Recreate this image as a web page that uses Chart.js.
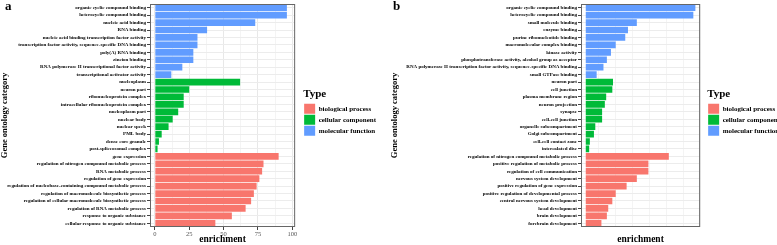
<!DOCTYPE html>
<html>
<head>
<meta charset="utf-8">
<script src="https://cdn.jsdelivr.net/npm/chart.js@4.4.1/dist/chart.umd.min.js"></script>
<style>
  body { margin: 0; background: #fff; width: 777px; height: 245px; overflow: hidden; position: relative; }
  .panel { position: absolute; top: 0; }
  .tag { position: absolute; top: -2px; font: bold 13px "Liberation Serif", serif; color: #000; }
</style>
</head>
<body>
<canvas id="chart-a" class="panel" width="386" height="245" style="left:0"></canvas>
<canvas id="chart-b" class="panel" width="400" height="245" style="left:390px"></canvas>
<div class="tag" style="left:5px">a</div>
<div class="tag" style="left:393px">b</div>
<script>
// panel a
const mfTermsA = ['organic cyclic compound binding', 'heterocyclic compound binding', 'nucleic acid binding', 'RNA binding',
  'nucleic acid binding transcription factor activity', 'transcription factor activity, sequence-specific DNA binding',
  'poly(A) RNA binding', 'zincion binding', 'RNA polymerase II transcriptional factor activity', 'transcriptional activator activity'];
const mfValuesA = [96, 96, 73, 38, 31, 31, 28, 28, 20, 12];
const ccTermsA = ['nucleoplasm', 'neuron part', 'ribonucleoprotein complex', 'intracellular ribonucleoprotein complex',
  'nucleoplasm part', 'nuclear body', 'nuclear speck', 'PML body', 'dense core granule', 'post-spliceosomal complex'];
const ccValuesA = [62, 25, 21, 21, 17, 13, 10, 5, 3, 2];
const bpTermsA = ['gene expression', 'regulation of nitrogen compound metabolic process', 'RNA metabolic process',
  'regulation of gene expression', 'regulation of nucleobase-containing compound metabolic process',
  'regulation of macromolecule biosynthetic process', 'regulation of cellular macromolecule biosynthetic process',
  'regulation of RNA metabolic process', 'response to organic substance', 'cellular response to organic substance'];
const bpValuesA = [90, 79, 78, 76, 74, 72, 70, 66, 56, 44];

// panel b
const mfTermsB = ['organic cyclic compound binding', 'heterocyclic compound binding', 'small molecule binding', 'enzyme binding',
  'purine ribonucleotide binding', 'macromolecular complex binding', 'kinase activity',
  'phosphotransferase activity, alcohol group as acceptor',
  'RNA polymerase II transcription factor activity, sequence-specific DNA binding', 'small GTPase binding'];
const mfValuesB = [161, 158, 75, 62, 58, 44, 37, 31, 26, 16];
const ccTermsB = ['neuron part', 'cell junction', 'plasma membrane region', 'neuron projection', 'synapse', 'cell-cell junction',
  'organelle subcompartment', 'Golgi subcompartment', 'cell-cell contact zone', 'intercalated disc'];
const ccValuesB = [40, 39, 30, 28, 24, 24, 14, 12, 6, 5];
const bpTermsB = ['regulation of nitrogen compound metabolic process', 'positive regulation of metabolic process',
  'regulation of cell communication', 'nervous system development', 'positive regulation of gene expression',
  'positive regulation of developmental process', 'central nervous system development', 'head development',
  'brain development', 'forebrain development'];
const bpValuesB = [122, 92, 92, 75, 60, 44, 39, 33, 31, 23];

const typeNames = ['biological process', 'cellular component', 'molecular function'];
const typeColors = ['#F8766D', '#00BA38', '#619CFF'];

const SERIF = '"Liberation Serif", "Times New Roman", serif';

// draws the grey panel border on top of the bars
const panelBorder = {
  id: 'panelBorder',
  afterDatasetsDraw(chart) {
    const { ctx, chartArea: a } = chart;
    ctx.save();
    ctx.strokeStyle = '#666';
    ctx.lineWidth = 1;
    ctx.strokeRect(a.left + 0.5, a.top + 0.5, a.right - a.left - 1, a.bottom - a.top - 1);
    ctx.restore();
  }
};

function makeChart(id, mf, mfV, cc, ccV, bp, bpV, xMin, xMax, step, labelEvery, yWidth, gap) {
  const labels = [...mf, ...cc, ...bp];
  const pad = n => Array(n).fill(null);
  // one dataset per type, so the legend has three entries
  const series = [
    [...pad(mf.length + cc.length), ...bpV],
    [...pad(mf.length), ...ccV, ...pad(bp.length)],
    [...mfV, ...pad(cc.length + bp.length)]
  ];
  return new Chart(document.getElementById(id).getContext('2d'), {
    type: 'bar',
    data: {
      labels: labels,
      datasets: series.map((d, i) => ({
        label: typeNames[i],
        data: d,
        backgroundColor: typeColors[i],
        categoryPercentage: 0.9,
        barPercentage: 1
      }))
    },
    options: {
      indexAxis: 'y',
      responsive: false,
      animation: false,
      layout: { padding: { top: 1, right: 0, bottom: 0, left: 0 } },
      plugins: {
        tooltip: { enabled: false },
        legend: {
          position: 'right',
          align: 'start',
          maxWidth: 140,
          title: { display: true, text: 'Type', position: 'start', color: '#000',
            font: { family: SERIF, size: 11, weight: 'bold' }, padding: { top: 88, bottom: 0.5 } },
          labels: { boxWidth: 11, boxHeight: 10, padding: 1, color: '#000',
            font: { family: SERIF, size: 7, weight: 'bold' } }
        }
      },
      scales: {
        x: {
          stacked: true,
          min: xMin,
          max: xMax,
          border: { display: false },
          afterFit: s => { s.height = 18; },
          grid: {
            color: c => (c.tick && c.tick.value % labelEvery === 0) ? '#e8e8e8' : '#f4f4f4',
            tickColor: c => (c.tick && c.tick.value % labelEvery === 0) ? '#444' : 'rgba(0,0,0,0)',
            tickLength: 3
          },
          ticks: {
            stepSize: step,
            includeBounds: false,
            maxRotation: 0,
            autoSkip: false,
            padding: 1,
            color: '#555',
            font: { family: SERIF, size: 6.5, lineHeight: 1 },
            callback: v => (v % labelEvery === 0 ? v : '')
          },
          title: { display: true, text: 'enrichment', color: '#000',
            font: { family: SERIF, size: 9.5, weight: 'bold', lineHeight: 1 }, padding: { top: 0, bottom: 1 } }
        },
        y: {
          stacked: true,
          border: { display: false },
          afterFit: s => { s.width = yWidth; },
          grid: { offset: false, color: '#ececec', tickColor: '#444', tickLength: 3 },
          ticks: { autoSkip: false, padding: 1, color: '#000',
            font: { family: SERIF, size: 5, weight: 'bold' } },
          title: { display: true, text: 'Gene ontology category', color: '#000',
            font: { family: SERIF, size: 8.5, weight: 'bold' }, padding: { top: 0, bottom: 0 } }
        },
        // empty axis: only keeps a gap between the panel and the legend
        spacer: {
          type: 'linear',
          axis: 'y',
          position: 'right',
          grid: { display: false },
          ticks: { display: false },
          border: { display: false },
          afterFit: s => { s.width = gap; }
        }
      }
    },
    plugins: [panelBorder]
  });
}

makeChart('chart-a', mfTermsA, mfValuesA, ccTermsA, ccValuesA, bpTermsA, bpValuesA, -3.5, 102, 12.5, 25, 150, 8);
makeChart('chart-b', mfTermsB, mfValuesB, ccTermsB, ccValuesB, bpTermsB, bpValuesB, -7, 168, 25, 50, 191, 7);
</script>
</body>
</html>
